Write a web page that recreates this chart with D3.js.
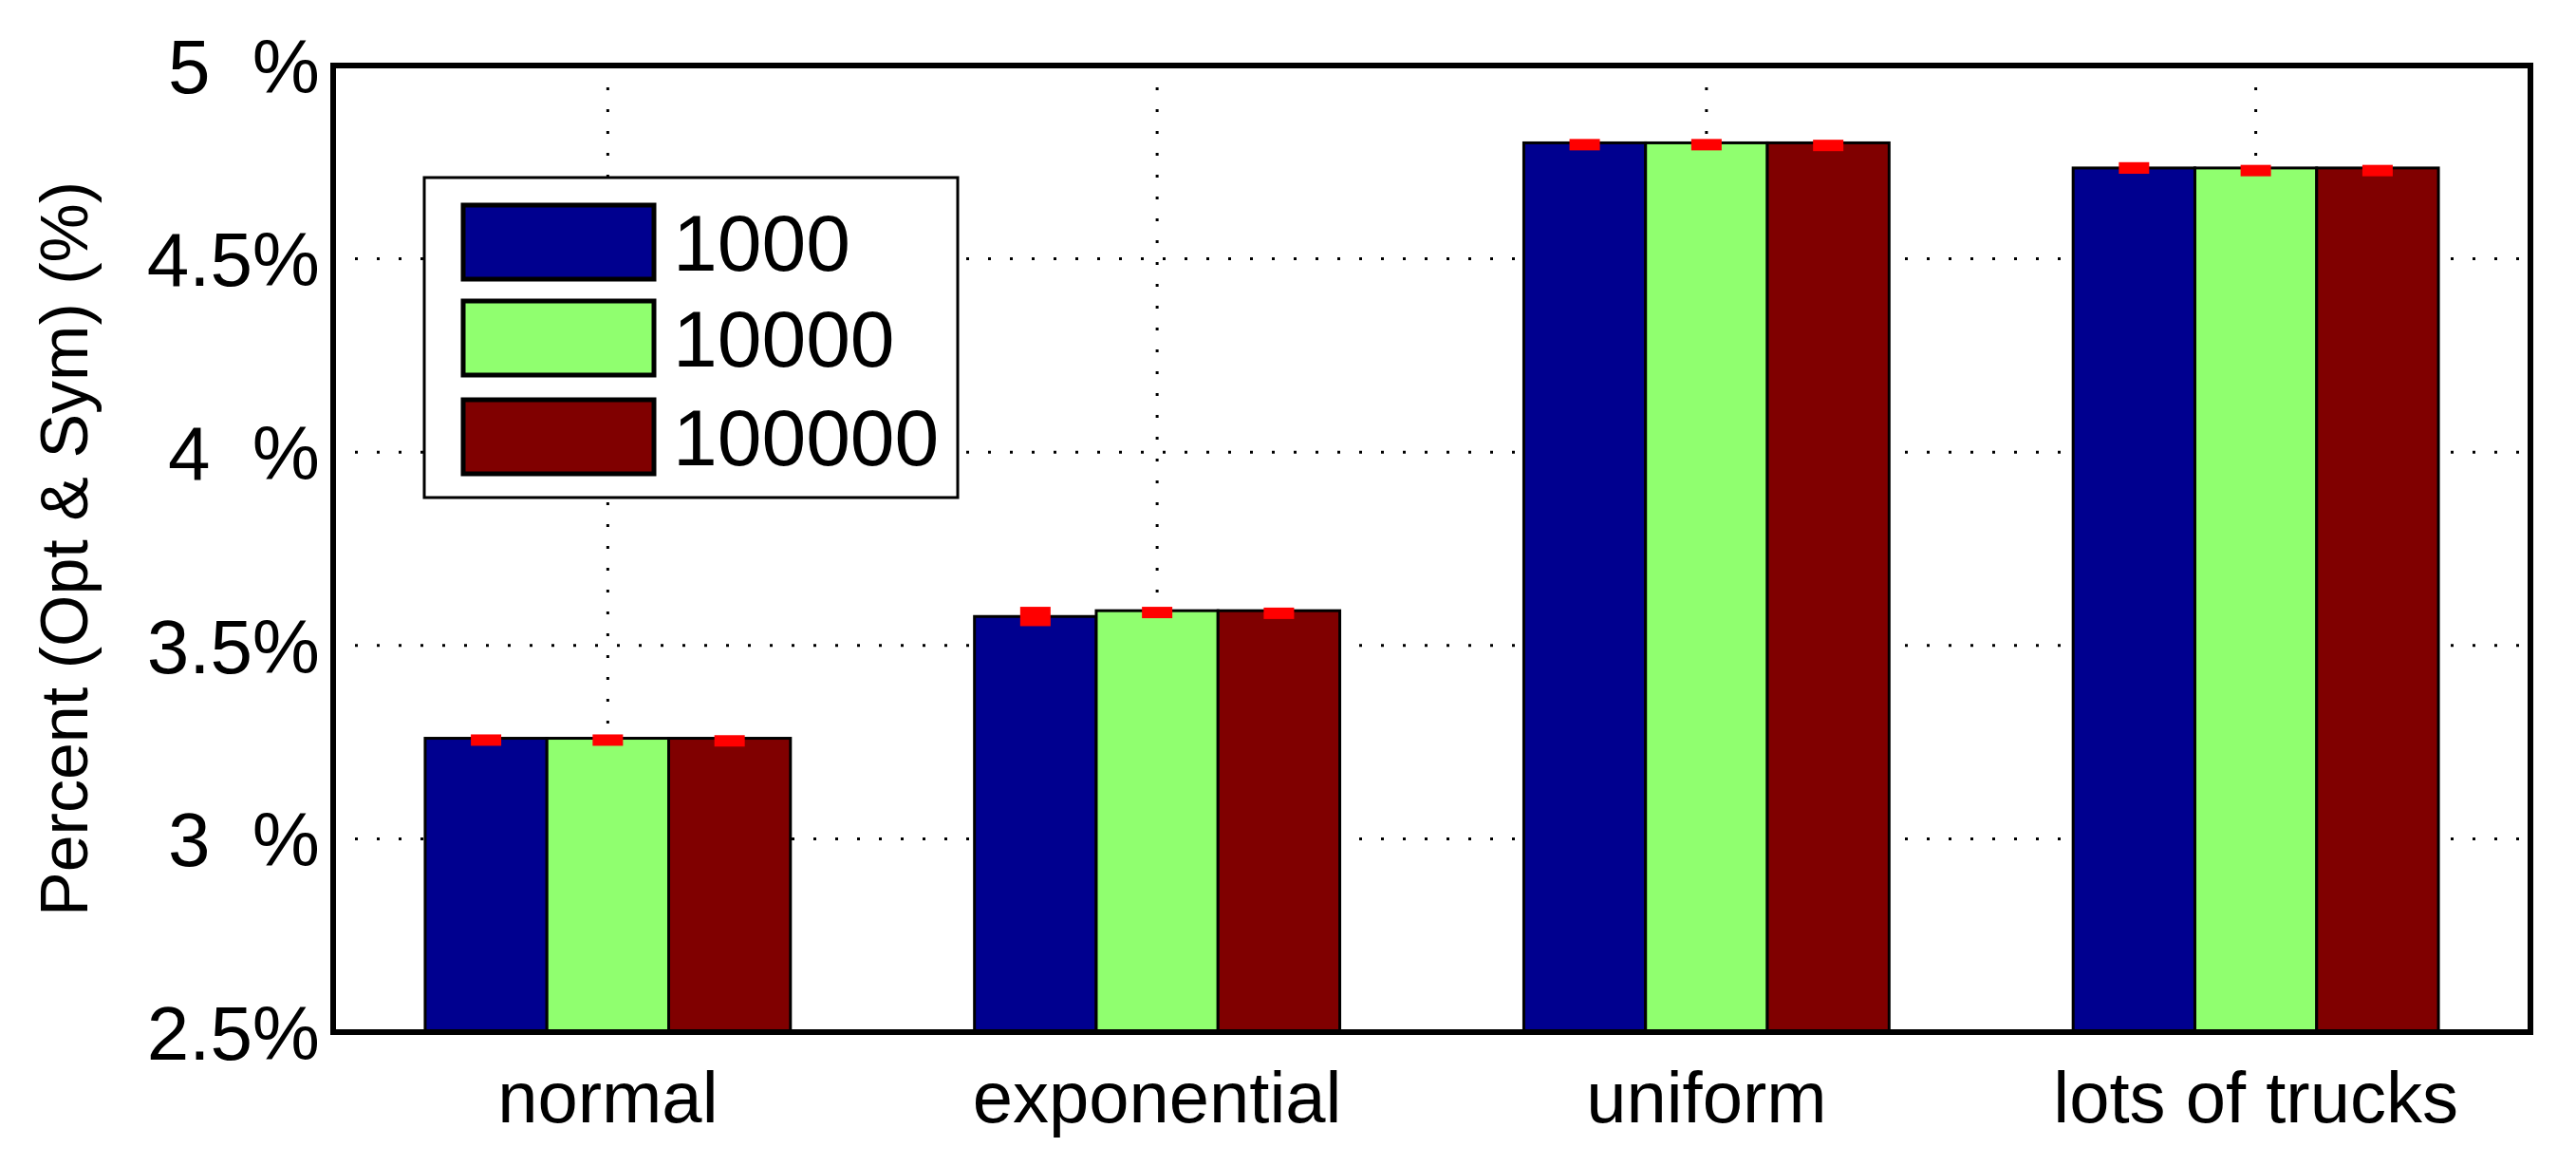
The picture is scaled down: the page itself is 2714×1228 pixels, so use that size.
<!DOCTYPE html>
<html><head><meta charset="utf-8">
<script src="https://cdn.jsdelivr.net/npm/d3@7"></script>
<style>body{margin:0;background:#fff}text{font-family:"Liberation Sans Narrow","Liberation Sans",Arial,sans-serif}</style>
</head><body><svg id="chart"></svg>
<script>
const categories = ["normal", "exponential", "uniform", "lots of trucks"]
const series = ["1000", "10000", "100000"]
const colors = ["#00008f", "#90ff6f", "#800000"]
const values = [
    [3.26, 3.26, 3.26],
    [3.575, 3.59, 3.59],
    [4.80, 4.80, 4.80],
    [4.735, 4.735, 4.735]
]
const errors = [
    [0.01, 0.01, 0.008],
    [0.025, 0.01, 0.008],
    [0.01, 0.01, 0.008],
    [0.015, 0.008, 0.008]
]
const yTicks = [2.5, 3, 3.5, 4, 4.5, 5]
const yTickLabels = ["2.5%", "3  %", "3.5%", "4  %", "4.5%", "5  %"]

const W = 2714, H = 1228
const margin = { top: 69, right: 48, bottom: 141, left: 351 }
const width = W - margin.left - margin.right
const height = H - margin.top - margin.bottom

const svg = d3.select('#chart').attr('width', W).attr('height', H)
const g = svg.append('g').attr('transform', `translate(${margin.left}, ${margin.top})`)

const xScale = d3.scaleBand().domain(categories).range([0, width])
const xSub = d3.scaleBand().domain(series).range([0, xScale.bandwidth() * 0.665])
const yScale = d3.scaleLinear().domain([2.5, 5]).range([height, 0])

// grid
g.append('g').selectAll('line').data(yTicks.slice(1, -1)).join('line')
    .attr('x1', 0).attr('x2', width).attr('y1', d => yScale(d)).attr('y2', d => yScale(d))
    .attr('stroke', '#000').attr('stroke-width', 3).attr('stroke-dasharray', '3 20')
g.append('g').selectAll('line').data(categories).join('line')
    .attr('x1', d => xScale(d) + xScale.bandwidth() / 2).attr('x2', d => xScale(d) + xScale.bandwidth() / 2)
    .attr('y1', 0).attr('y2', height)
    .attr('stroke', '#000').attr('stroke-width', 3).attr('stroke-dasharray', '3 20')

// bars
const off = xScale.bandwidth() * (1 - 0.665) / 2
const groups = g.append('g').selectAll('g').data(categories).join('g')
    .attr('transform', d => `translate(${xScale(d) + off}, 0)`)
groups.selectAll('rect').data((d, i) => series.map((s, j) => ({ s, j, v: values[i][j], e: errors[i][j] })))
    .join('rect')
    .attr('x', d => xSub(d.s)).attr('width', xSub.bandwidth())
    .attr('y', d => yScale(d.v)).attr('height', d => height - yScale(d.v))
    .attr('fill', d => colors[d.j]).attr('stroke', '#000').attr('stroke-width', 3)
groups.selectAll('.err').data((d, i) => series.map((s, j) => ({ s, v: values[i][j], e: errors[i][j] })))
    .join('rect').attr('class', 'err')
    .attr('x', d => xSub(d.s) + xSub.bandwidth() / 2 - 16).attr('width', 32)
    .attr('y', d => yScale(d.v + d.e)).attr('height', d => Math.max(12, yScale(d.v - d.e) - yScale(d.v + d.e)))
    .attr('fill', '#ff0000')

// frame
g.append('rect').attr('width', width).attr('height', height)
    .attr('fill', 'none').attr('stroke', '#000').attr('stroke-width', 6)

// y ticks
g.append('g').selectAll('text').data(yTicks).join('text')
    .attr('x', -14).attr('y', d => yScale(d)).attr('dy', '0.36em')
    .attr('text-anchor', 'end').attr('font-size', 80).style('white-space', 'pre')
    .text((d, i) => yTickLabels[i])

// x labels
g.append('g').selectAll('text').data(categories).join('text')
    .attr('x', d => xScale(d) + xScale.bandwidth() / 2).attr('y', height + 95)
    .attr('text-anchor', 'middle').attr('font-size', 76).text(d => d)

// y label
svg.append('text').attr('transform', `translate(92, ${margin.top + height / 2}) rotate(-90)`)
    .attr('text-anchor', 'middle').attr('font-size', 70).text('Percent (Opt & Sym) (%)')

// legend
const lg = svg.append('g').attr('transform', 'translate(447, 187)')
lg.append('rect').attr('width', 562).attr('height', 337).attr('fill', '#fff').attr('stroke', '#000').attr('stroke-width', 3)
const rowY = [29, 130, 234]
series.forEach((s, i) => {
    lg.append('rect').attr('x', 41).attr('y', rowY[i]).attr('width', 201).attr('height', 78)
        .attr('fill', colors[i]).attr('stroke', '#000').attr('stroke-width', 5)
    lg.append('text').attr('x', 262).attr('y', rowY[i] + 39).attr('dy', '0.36em')
        .attr('font-size', 84).text(s)
})
</script></body></html>
